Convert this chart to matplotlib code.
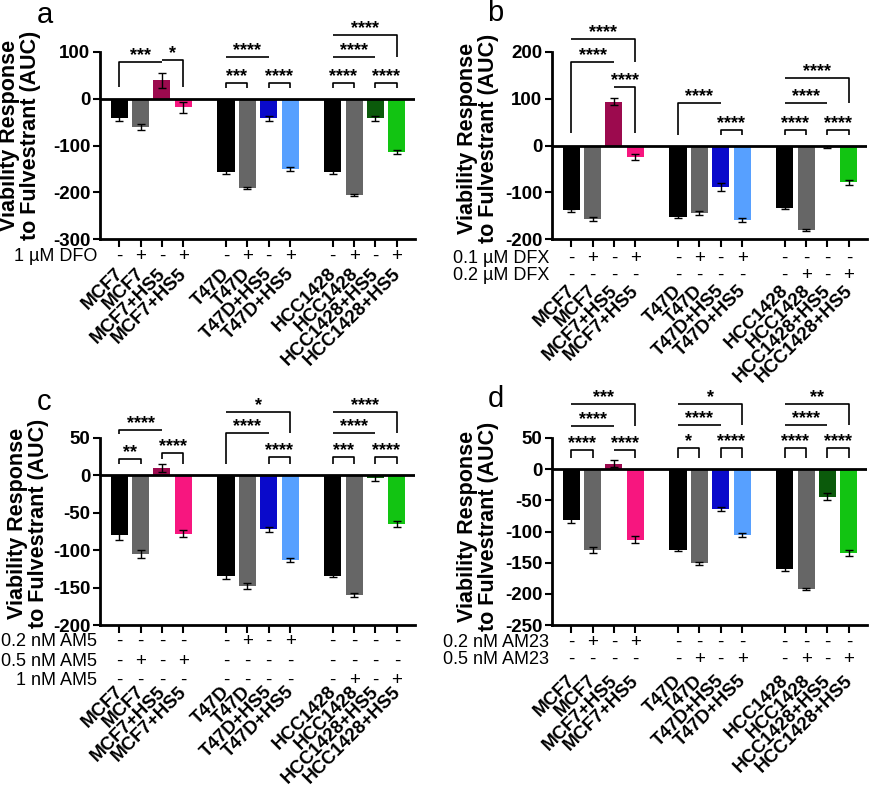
import matplotlib
matplotlib.use("Agg")
import matplotlib.pyplot as plt
from matplotlib.transforms import offset_copy

plt.rcParams["font.family"] = ["Liberation Sans", "DejaVu Sans"]

# bar layout shared by all four panels
CELL_LABELS = ["MCF7", "MCF7", "MCF7+HS5", "MCF7+HS5",
               "T47D", "T47D", "T47D+HS5", "T47D+HS5",
               "HCC1428", "HCC1428", "HCC1428+HS5", "HCC1428+HS5"]
POSITIONS = [0, 1, 2, 3, 5, 6, 7, 8, 10, 11, 12, 13]
BAR_COLORS = ["#000000", "#666666", "#9c0a4e", "#f7167f",
              "#000000", "#666666", "#0a0acb", "#57a0ff",
              "#000000", "#666666", "#0b5a0b", "#12c412"]

# a: DFO
AUC_A = [-42, -61, 40, -18, -157, -190, -42, -150, -157, -206, -42, -114]
SEM_A = [5, 6, 16, 12, 4, 2, 5, 4, 4, 2, 5, 5]
ROWS_A = [("1 µM DFO", "-+-+-+-+-+-+")]
SIG_A = [(0, 2, 79, "***", 26, None), (2, 3, 82, "*", None, 26),
         (4, 5, 33, "***", 23, 23), (6, 7, 33, "****", 23, 23),
         (4, 6, 89, "****", None, None),
         (8, 9, 33, "****", 23, 23), (10, 11, 33, "****", 23, 23),
         (8, 10, 89, "****", None, None), (8, 11, 136, "****", None, 89)]

# b: DFX
AUC_B = [-139, -158, 94, -25, -152, -144, -89, -160, -133, -181, -3, -79]
SEM_B = [3, 4, 7, 6, 3, 4, 8, 4, 2, 2, 3, 5]
ROWS_B = [("0.1 µM DFX", "-+-+-+-+----"),
          ("0.2 µM DFX", "---------+-+")]
SIG_B = [(0, 3, 227, "****", None, 179), (0, 2, 179, "****", 27, None),
         (2, 3, 125, "****", None, 27),
         (4, 6, 91, "****", 23, None), (6, 7, 33, "****", 23, 23),
         (8, 11, 145, "****", None, 91), (8, 10, 91, "****", None, None),
         (8, 9, 33, "****", 23, 23), (10, 11, 33, "****", 23, 23)]

# c: AM5
AUC_C = [-80, -105, 10, -78, -135, -148, -72, -113, -134, -160, -3, -65]
SEM_C = [7, 5, 5, 5, 3, 4, 3, 3, 2, 3, 4, 4]
ROWS_C = [("0.2 nM AM5", "-----+-+----"),
          ("0.5 nM AM5", "-+-+--------"),
          ("1 nM AM5", "---------+-+")]
SIG_C = [(0, 2, 61, "****", 55, None), (0, 1, 22, "**", 15, 15),
         (2, 3, 30, "****", 22, 15),
         (4, 7, 85, "*", None, 57), (4, 6, 57, "****", 15, None),
         (6, 7, 24, "****", 15, 15),
         (8, 11, 85, "****", None, 57), (8, 10, 57, "****", None, None),
         (8, 9, 24, "***", 15, 15), (10, 11, 24, "****", 15, 15)]

# d: AM23
AUC_D = [-82, -130, 9, -113, -129, -151, -64, -106, -160, -192, -44, -134]
SEM_D = [5, 5, 5, 6, 2, 2, 3, 3, 4, 2, 6, 5]
ROWS_D = [("0.2 nM AM23", "-+-+--------"),
          ("0.5 nM AM23", "-----+-+-+-+")]
SIG_D = [(0, 3, 104, "***", None, 69), (0, 2, 69, "****", None, None),
         (0, 1, 31, "****", 18, 18), (2, 3, 31, "****", None, 18),
         (4, 7, 104, "*", None, 71), (4, 6, 71, "****", None, None),
         (4, 5, 34, "*", 18, 18), (6, 7, 34, "****", 18, 18),
         (8, 11, 104, "**", None, 71), (8, 10, 71, "****", None, None),
         (8, 9, 34, "****", 18, 18), (10, 11, 34, "****", 18, 18)]

YLABEL = "Viability Response\nto Fulvestrant (AUC)"


def draw_bracket(ax, fig, sig):
    i, j, y, label, leg_i, leg_j = sig
    xi, xj = POSITIONS[i], POSITIONS[j]
    xs, ys = [xi, xj], [y, y]
    if leg_i is not None:
        xs, ys = [xi] + xs, [leg_i] + ys
    if leg_j is not None:
        xs, ys = xs + [xj], ys + [leg_j]
    ax.plot(xs, ys, color="black", lw=1.2, clip_on=False, solid_capstyle="butt")
    tr = offset_copy(ax.transData, fig=fig, y=2, units="dots")
    ax.text((xi + xj) / 2, y, label, transform=tr, ha="center", va="baseline",
            fontsize=13, fontweight="bold", clip_on=False)


def draw_panel(fig, rect, values, errs, ylim, yticks, rows, row_offsets, sigs, label_offset):
    ax = fig.add_axes(rect)
    ax.bar(POSITIONS, values, width=0.8, color=BAR_COLORS, yerr=errs, capsize=3,
           error_kw=dict(elinewidth=1, capthick=1, ecolor="black"), zorder=2)
    ax.axhline(0, color="black", lw=2, zorder=3)
    ax.set_xlim(-0.9, 13.85)
    ax.set_ylim(*ylim)
    ax.set_yticks(yticks)
    ax.set_yticklabels([str(t) for t in yticks], fontsize=13.5, fontweight="bold")
    ax.set_xticks(POSITIONS)
    ax.set_xticklabels([])
    ax.tick_params(axis="x", length=6, width=1.5)
    ax.tick_params(axis="y", length=5, width=1.5, pad=2)
    for side in ["top", "right"]:
        ax.spines[side].set_visible(False)
    for side in ["left", "bottom"]:
        ax.spines[side].set_linewidth(2)

    for (name, signs), off in zip(rows, row_offsets):
        tr = offset_copy(ax.get_xaxis_transform(), fig=fig, y=-off, units="dots")
        ax.text(0, 0, name, transform=offset_copy(ax.transAxes, fig=fig, x=-3, y=-off, units="dots"),
                ha="right", va="center", fontsize=13)
        for x, s in zip(POSITIONS, signs):
            ax.text(x, 0, s, transform=tr, ha="center", va="center", fontsize=13.5)

    tr = offset_copy(ax.get_xaxis_transform(), fig=fig, x=-5, y=-label_offset, units="dots")
    for x, lab in zip(POSITIONS, CELL_LABELS):
        ax.text(x, 0, lab, transform=tr, rotation=45, rotation_mode="anchor",
                ha="right", va="top", fontsize=13.5, fontweight="bold")

    for sig in sigs:
        draw_bracket(ax, fig, sig)
    return ax


def main():
    fig = plt.figure(figsize=(8.7, 7.89), dpi=100)
    W, H = 870, 789

    def rect(left, top, right, bottom):
        return [left / W, 1 - bottom / H, (right - left) / W, (bottom - top) / H]

    draw_panel(fig, rect(100, 52, 415, 239), AUC_A, SEM_A, (-300, 100),
               [-300, -200, -100, 0, 100], ROWS_A, [17.7], SIG_A, 26)
    draw_panel(fig, rect(552, 52, 867, 239), AUC_B, SEM_B, (-200, 200),
               [-200, -100, 0, 100, 200], ROWS_B, [19.3, 36.7], SIG_B, 43)
    draw_panel(fig, rect(100, 438, 415, 625), AUC_C, SEM_C, (-200, 50),
               [-200, -150, -100, -50, 0, 50], ROWS_C, [16.7, 36.7, 55.7], SIG_C, 58)
    draw_panel(fig, rect(552, 438, 867, 625), AUC_D, SEM_D, (-250, 50),
               [-250, -200, -150, -100, -50, 0, 50], ROWS_D, [17.3, 34.3], SIG_D, 47)

    for (x, y) in [(20, 135), (478, 138), (28, 523), (478, 526)]:
        fig.text(x / W, 1 - y / H, YLABEL, rotation=90, ha="center", va="center",
                 fontsize=15.5, fontweight="bold", linespacing=0.95)
    for letter, (x, y) in zip("abcd", [(45, 15), (495, 13), (44, 402), (496, 399)]):
        fig.text(x / W, 1 - y / H, letter, ha="center", va="center", fontsize=21)

    fig.savefig("out.png", dpi=100)
    plt.close(fig)


if __name__ == "__main__":
    main()
